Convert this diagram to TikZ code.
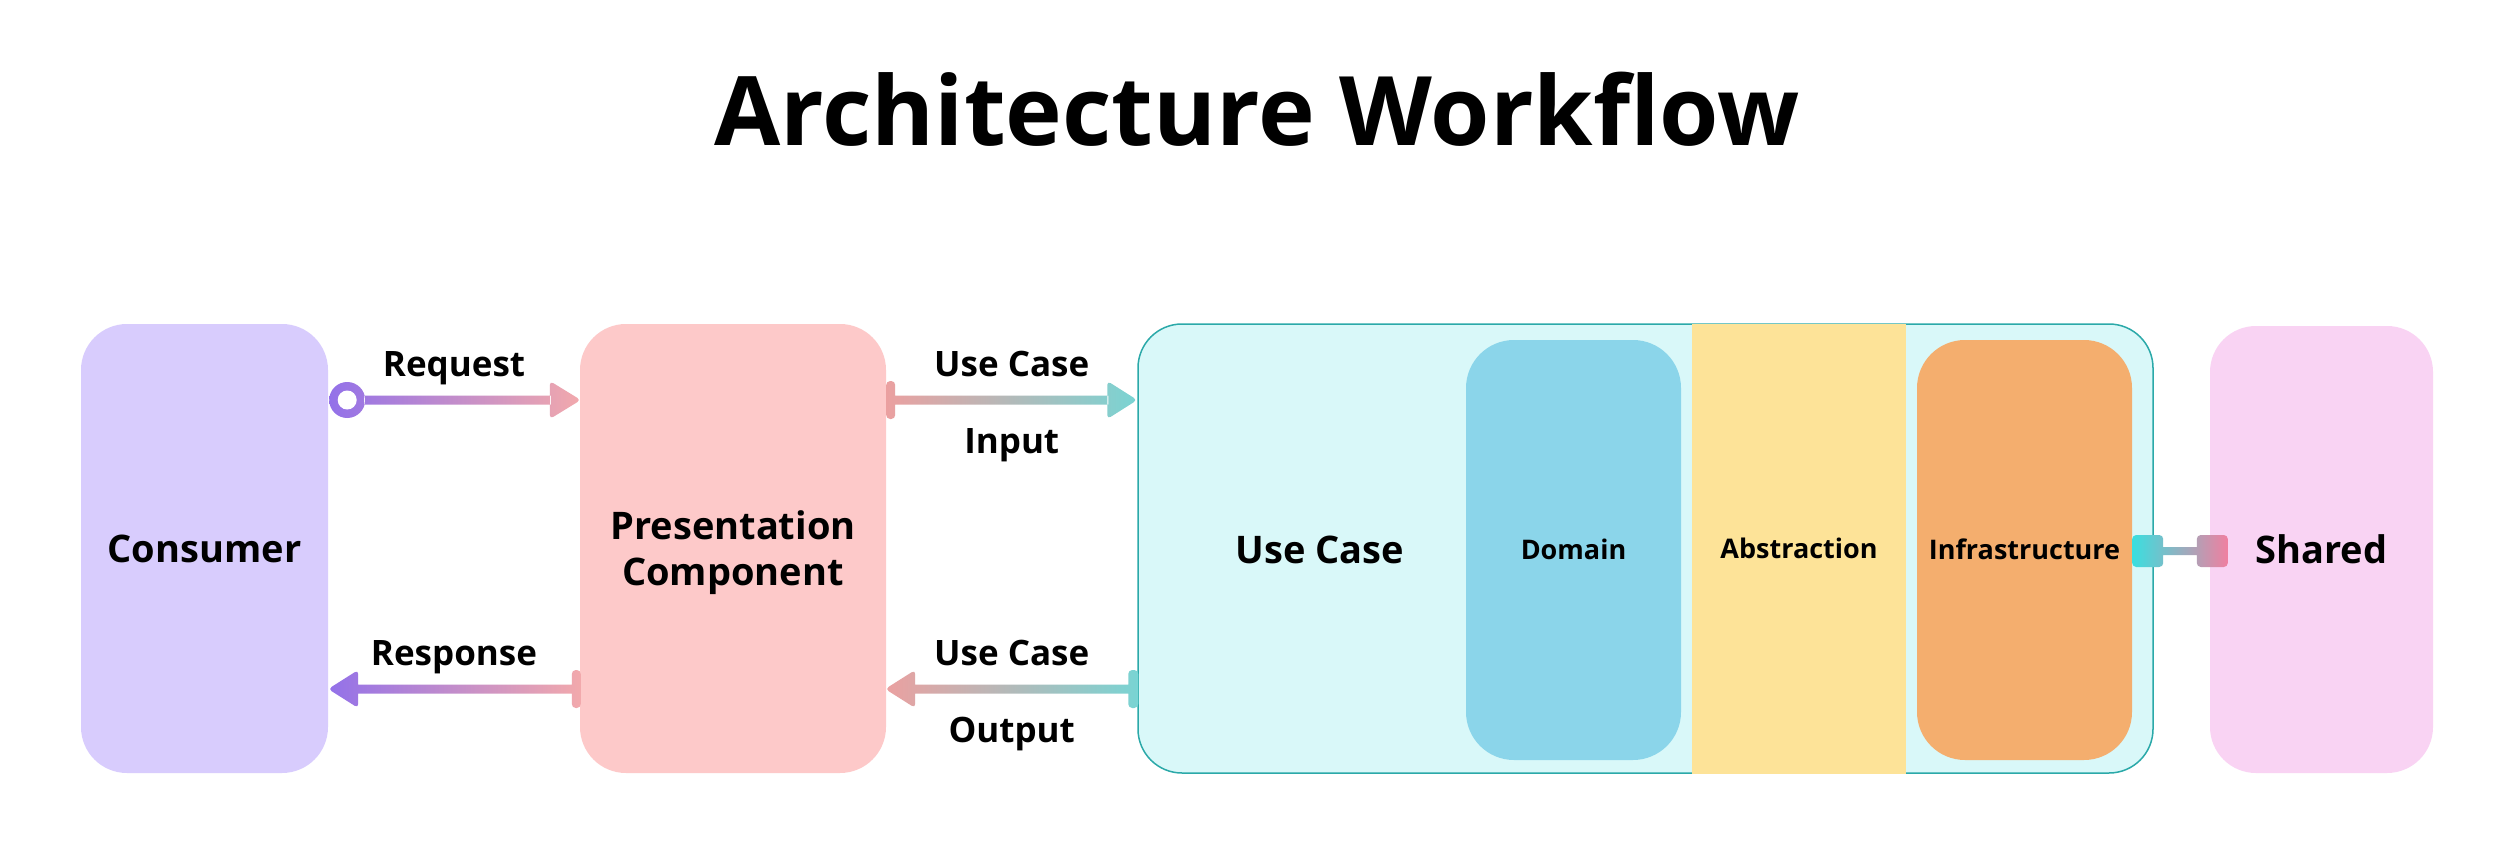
\documentclass[tikz,border=0pt]{standalone}
\usepackage{fontspec}
\setmainfont{Open Sans}
\usetikzlibrary{calc}
\definecolor{consC}{HTML}{D8CCFD}
\definecolor{presC}{HTML}{FDC9C9}
\definecolor{ucC}{HTML}{D9F8F9}
\definecolor{ucB}{HTML}{2BA9A9}
\definecolor{domC}{HTML}{8BD5EA}
\definecolor{absC}{HTML}{FDE398}
\definecolor{infC}{HTML}{F4AE6E}
\definecolor{shC}{HTML}{F9D3F3}
\definecolor{purA}{HTML}{9371E9}
\definecolor{pinA}{HTML}{F2A9AC}
\definecolor{pinB}{HTML}{EBA0A0}
\definecolor{tealA}{HTML}{79D4D3}
\definecolor{cyanA}{HTML}{3ADFDF}
\definecolor{roseA}{HTML}{F07FA0}
\begin{document}
\begin{tikzpicture}[x=1pt,y=-1pt,
  box/.style={draw=none, rounded corners=46pt, inner sep=0pt},
  lbl/.style={font=\fontsize{38}{46}\selectfont\bfseries, text height=27.1pt, text depth=0pt},
  sml/.style={font=\fontsize{27}{32}\selectfont\bfseries, text height=19.3pt, text depth=0pt},
  albl/.style={font=\fontsize{35}{42}\selectfont\bfseries, anchor=base, inner sep=0pt}]
\useasboundingbox[fill=white] (0,0) rectangle (2493,848);
% title
\node[font=\fontsize{96}{115}\selectfont\bfseries, anchor=base, inner sep=0pt] (title) at (1257,146) {Architecture Workflow};
% boxes
\node[box, fill=consC, minimum width=247pt, minimum height=449pt, lbl] (consumer) at (204.5,548.5) {Consumer};
\node[box, fill=presC, minimum width=306pt, minimum height=449pt, align=center,
  font=\fontsize{38}{46}\selectfont\bfseries, text depth=0pt] (pres) at (733,548.5) {Presentation\\Component};
\node[box, fill=ucC, draw=ucB, line width=1.5pt, rounded corners=44pt, minimum width=1015pt, minimum height=449pt] (usecase) at (1645.5,548.5) {};
\node[lbl, inner sep=0pt] (uclabel) at (1320,550) {Use Case};
\node[box, fill=domC, minimum width=215pt, minimum height=420pt, rounded corners=48pt, sml] (domain) at (1573.5,550) {Domain};
\node[fill=absC, minimum width=214pt, minimum height=450pt, inner sep=0pt, sml] (abstr) at (1799,548.5) {Abstraction};
\node[box, fill=infC, minimum width=215pt, minimum height=420pt, rounded corners=48pt, sml] (infra) at (2024.5,550) {Infrastructure};
\node[box, fill=shC, minimum width=223pt, minimum height=447pt, lbl] (shared) at (2321.5,549.5) {Shared};
% coordinates
\coordinate (reqA) at (consumer.east |- 0,400);
\coordinate (reqB) at (pres.west |- 0,400);
\coordinate (inA) at (pres.east |- 0,400);
\coordinate (inB) at (usecase.west |- 0,400);
\coordinate (rsA) at (consumer.east |- 0,689);
\coordinate (rsB) at (pres.west |- 0,689);
\coordinate (outA) at (pres.east |- 0,689);
\coordinate (outB) at (usecase.west |- 0,689);
\coordinate (shA) at (infra.east |- 0,551);
\coordinate (shB) at (shared.west |- 0,551);
% Request
\shade[left color=purA, right color=pinA]
  ($(reqA)+(19,0)$) circle[radius=18]
  ($(reqA)+(36,-4.5)$) rectangle ($(reqB)+(-29,4.5)$)
  [rounded corners=4pt] ($(reqB)+(-30,-19)$) -- ($(reqB)+(1,0)$) -- ($(reqB)+(-30,19)$) -- cycle;
\fill[white] ($(reqA)+(19,0)$) circle[radius=9.5];
% Use Case Input
\shade[left color=pinB, right color=tealA]
  [rounded corners=4pt] ($(inA)+(0,-19)$) rectangle ($(inA)+(9,19)$)
  [sharp corners] ($(inA)+(8,-4.5)$) rectangle ($(inB)+(-29,4.5)$)
  [rounded corners=4pt] ($(inB)+(-30,-19)$) -- ($(inB)+(0,0)$) -- ($(inB)+(-30,19)$) -- cycle;
% Response
\shade[left color=purA, right color=pinA]
  [rounded corners=4pt] ($(rsA)+(30,-19)$) -- ($(rsA)+(0,0)$) -- ($(rsA)+(30,19)$) -- cycle
  [sharp corners] ($(rsA)+(29,-4.5)$) rectangle ($(rsB)+(-7,4.5)$)
  [rounded corners=4pt] ($(rsB)+(-8,-19)$) rectangle ($(rsB)+(1,19)$);
% Use Case Output
\shade[left color=pinB, right color=tealA]
  [rounded corners=4pt] ($(outA)+(29,-19)$) -- ($(outA)+(-1,0)$) -- ($(outA)+(29,19)$) -- cycle
  [sharp corners] ($(outA)+(28,-4.5)$) rectangle ($(outB)+(-8,4.5)$)
  [rounded corners=4pt] ($(outB)+(-9,-19)$) rectangle ($(outB)+(1,19)$);
% Shared connector
\shade[left color=cyanA, right color=roseA]
  [rounded corners=4pt] ($(shA)+(0,-16)$) rectangle ($(shA)+(31,16)$)
  [sharp corners] ($(shA)+(31,-4)$) rectangle ($(shB)+(-13,4)$)
  [rounded corners=4pt] ($(shB)+(-13,-16)$) rectangle ($(shB)+(18,16)$);
% labels
\node[albl] (lreq) at ($(reqA)!0.5!(reqB)+(0,-24)$) {Request};
\node[albl] (lin1) at ($(inA)!0.5!(inB)+(0,-24)$) {Use Case};
\node[albl] (lin2) at ($(inA)!0.5!(inB)+(0,53)$) {Input};
\node[albl] (lrs) at ($(rsA)!0.5!(rsB)+(0,-24)$) {Response};
\node[albl] (lout1) at ($(outA)!0.5!(outB)+(0,-24)$) {Use Case};
\node[albl] (lout2) at ($(outA)!0.5!(outB)+(0,53)$) {Output};
\end{tikzpicture}
\end{document}
